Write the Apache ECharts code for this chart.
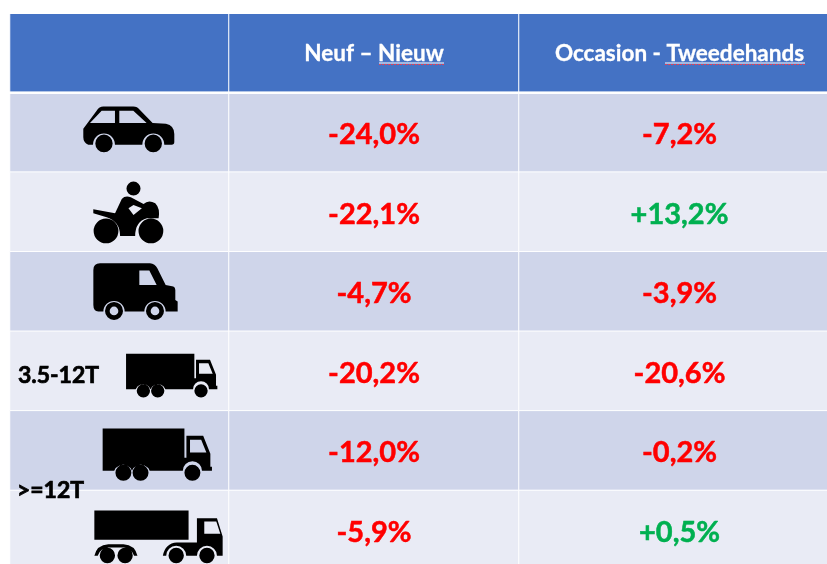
<!DOCTYPE html>
<html>
<head>
<meta charset="utf-8">
<title>Neuf - Nieuw / Occasion - Tweedehands</title>
<script src="https://cdn.jsdelivr.net/npm/echarts@6/dist/echarts.min.js"></script>
<style>
html, body { margin: 0; padding: 0; background: #fff; overflow: hidden; }
#main { width: 827px; height: 564px; }
</style>
</head>
<body>
<div id="main"></div>
<script>
var rows = ['header', 'car', 'moto', 'van', 'truck-small', 'truck-big', 'semi'];
var headers = ['', 'Neuf – Nieuw', 'Occasion - Tweedehands'];
var neufValues = [-24.0, -22.1, -4.7, -20.2, -12.0, -5.9];
var occasionValues = [-7.2, 13.2, -3.9, -20.6, -0.2, 0.5];
var tonnageLabels = ['3.5-12T', '>=12T'];

// icons, drawn in their own coordinates. holes run the other way round
function wheel(x, y, r) {
    return 'M' + (x - r) + ' ' + y + 'A' + r + ' ' + r + ' 0 1 1 ' + (x + r) + ' ' + y +
        'A' + r + ' ' + r + ' 0 1 1 ' + (x - r) + ' ' + y + 'Z';
}
function hole(x, y, r) {
    return 'M' + (x - r) + ' ' + y + 'A' + r + ' ' + r + ' 0 1 0 ' + (x + r) + ' ' + y +
        'A' + r + ' ' + r + ' 0 1 0 ' + (x - r) + ' ' + y + 'Z';
}
var carPath = 'path://M250 385L290 332Q298 320 310 320L400 320Q412 320 420 330L458 368L498 370Q523 375 523 400' +
    'L523 424Q523 432 515 432L493 432A33 33 0 0 0 427 432L345 432A33 33 0 0 0 279 432L265 432Q250 425 250 410Z' +
    'M270 368L345 368L345 332L305 332ZM358 368L440 368L400 332L358 332Z' +
    wheel(312, 428, 26) + wheel(460, 428, 26);
var motoPath = 'path://M280 628L345 640L365 597Q375 586 392 592L430 612Q445 598 465 610Q480 625 475 655L440 655' +
    'Q405 665 405 708L360 708Q360 665 320 652L280 640ZM385 625L400 645L425 625L400 615Z' +
    wheel(400, 566, 21) + wheel(318, 693, 37) + wheel(452, 693, 37);
var vanPath = 'path://M300 40L450 40Q465 42 472 55L497 105L520 110Q526 112 526 120L526 150L533 155L533 185L497 185' +
    'A32 32 0 0 0 433 185L374 185A32 32 0 0 0 310 185L295 185Q280 183 280 165L280 60Q280 40 300 40Z' +
    'M418 105L470 105L448 62L418 62Z' +
    wheel(342, 183, 27) + hole(342, 183, 13) + wheel(465, 183, 27) + hole(465, 183, 13);
var truckPath = 'path://M378 312L583 312L583 385L588 385L588 330L630 330L648 375L648 408L652 408L652 418L627 418' +
    'A24 24 0 0 0 579 418L496 418A24 24 0 0 0 451.5 418A24 24 0 0 0 407 418L378 418Z' +
    'M597 372L638 372L625 340L597 340Z' +
    wheel(430, 423, 20) + wheel(473, 423, 20) + wheel(603, 423, 20);
var semiPath = 'path://M283 782L565 782L565 870L283 870Z' +
    'M590 805L650 805L667 860L667 918L650 918A30 30 0 0 0 590 918L558 918A30 30 0 0 0 498 918L488 918' +
    'Q495 880 530 878L590 878ZM612 852L660 852L648 815L612 815Z' +
    'M283 918Q290 885 325 883L370 883Q405 885 412 918L402 918Q395 895 370 893L325 893Q300 895 293 918Z' +
    wheel(322, 917, 23) + wheel(375, 917, 23) + wheel(528, 917, 23) + wheel(620, 917, 23);

var icons = [
    { row: 1, symbol: carPath, size: [91, 45.7], offset: [9.3, -2.9] },
    { row: 2, symbol: motoPath, size: [70, 61.7], offset: [8.8, 0.5] },
    { row: 3, symbol: vanPath, size: [84.3, 56.7], offset: [16, 0.1] },
    { row: 4, symbol: truckPath, size: [91.3, 43.7], offset: [52.2, 4.6] },
    { row: 5, symbol: truckPath, size: [109.3, 52.3], offset: [37.8, 4] },
    { row: 6, symbol: semiPath, size: [128.3, 52.7], offset: [39, 6.6] }
];

var blue = '#4472C4', red = '#FF0000', green = '#00B050';
var fontName = 'Lato';

function rowColor(r) {
    if (r === 0) return blue;
    return r % 2 === 1 ? '#CFD5EA' : '#E9EBF5';
}

function pct(v) {
    return (v > 0 ? '+' : '-') + Math.abs(v).toFixed(1).replace('.', ',') + '%';
}

function columnData(col, values) {
    var out = [{
        value: [0, 0, 0],
        itemStyle: { color: blue },
        label: { formatter: headers[col], color: '#fff', fontSize: 22.5, offset: [0, 0.5], textBorderColor: '#fff', textBorderWidth: 0.3 }
    }];
    rows.slice(1).forEach(function (name, i) {
        var v = values ? values[i] : 0;
        var c = v > 0 ? green : red;
        out.push({
            value: [0, i + 1, v],
            itemStyle: { color: rowColor(i + 1) },
            label: values ? { formatter: pct(v), color: c, textBorderColor: c, textBorderWidth: 0.5, offset: [0, 2.3] } : { show: false }
        });
    });
    return out;
}

function heat(index, data) {
    return {
        type: 'heatmap',
        xAxisIndex: index,
        yAxisIndex: index,
        silent: true,
        data: data,
        itemStyle: { borderColor: '#fff', borderWidth: 1 },
        label: { show: true, fontFamily: fontName, fontWeight: 'bold', fontSize: 29 },
        emphasis: { disabled: true }
    };
}

var chart = echarts.init(document.getElementById('main'), null, { renderer: 'canvas' });
var top0 = 13, gridH = 557;
var axisY = [0, 1, 2].map(function (i) {
    return { gridIndex: i, type: 'category', inverse: true, data: rows, show: false };
});
var axisX = [0, 1, 2].map(function (i) {
    return { gridIndex: i, type: 'category', data: ['c' + i], show: false };
});

chart.setOption({
    animation: false,
    backgroundColor: '#fff',
    grid: [
        { left: 10, top: top0, width: 219, height: gridH, outerBoundsMode: 'none' },
        { left: 229, top: top0, width: 290, height: gridH, outerBoundsMode: 'none' },
        { left: 519, top: top0, width: 321, height: gridH, outerBoundsMode: 'none' }
    ],
    xAxis: axisX,
    yAxis: axisY,
    series: [
        heat(0, columnData(0, null)),
        heat(1, columnData(1, neufValues)),
        heat(2, columnData(2, occasionValues)),
        {
            type: 'scatter',
            xAxisIndex: 0,
            yAxisIndex: 0,
            silent: true,
            z: 5,
            itemStyle: { color: '#000', opacity: 1 },
            data: icons.map(function (ic) {
                return {
                    value: [0, ic.row],
                    symbol: ic.symbol,
                    symbolSize: ic.size,
                    symbolOffset: ic.offset
                };
            })
        },
        {
            type: 'scatter',
            xAxisIndex: 0,
            yAxisIndex: 0,
            silent: true,
            z: 6,
            symbolSize: 1,
            itemStyle: { color: 'transparent' },
            label: {
                show: true,
                position: 'inside',
                fontFamily: fontName,
                fontWeight: 'bold',
                fontSize: 23,
                color: '#000',
                textBorderColor: '#000',
                textBorderWidth: 0.7,
                opacity: 1
            },
            data: [
                { value: [0, 4], label: { formatter: tonnageLabels[0], offset: [-61, 5] } },
                { value: [0, 5], label: { formatter: tonnageLabels[1], offset: [-69, 39.5] } }
            ]
        }
    ],
    graphic: [
        // top edge, gap under the header row and the spell check underlines
        { type: 'rect', shape: { x: 0, y: 12, width: 827, height: 2 }, style: { fill: '#fff' }, z: 10 },
        { type: 'rect', shape: { x: 0, y: 91.5, width: 827, height: 2.5 }, style: { fill: '#fff' }, z: 10 },
        { type: 'line', shape: { x1: 379, y1: 63, x2: 444, y2: 63 }, style: { stroke: '#fff', lineWidth: 1 }, z: 10 },
        { type: 'line', shape: { x1: 379, y1: 64.5, x2: 444, y2: 64.5 }, style: { stroke: '#E0405A', lineWidth: 1, lineDash: [2, 1] }, z: 10 },
        { type: 'line', shape: { x1: 665, y1: 63, x2: 805, y2: 63 }, style: { stroke: '#fff', lineWidth: 1 }, z: 10 },
        { type: 'line', shape: { x1: 665, y1: 64.5, x2: 805, y2: 64.5 }, style: { stroke: '#E0405A', lineWidth: 1, lineDash: [2, 1] }, z: 10 }
    ]
});
</script>
</body>
</html>
